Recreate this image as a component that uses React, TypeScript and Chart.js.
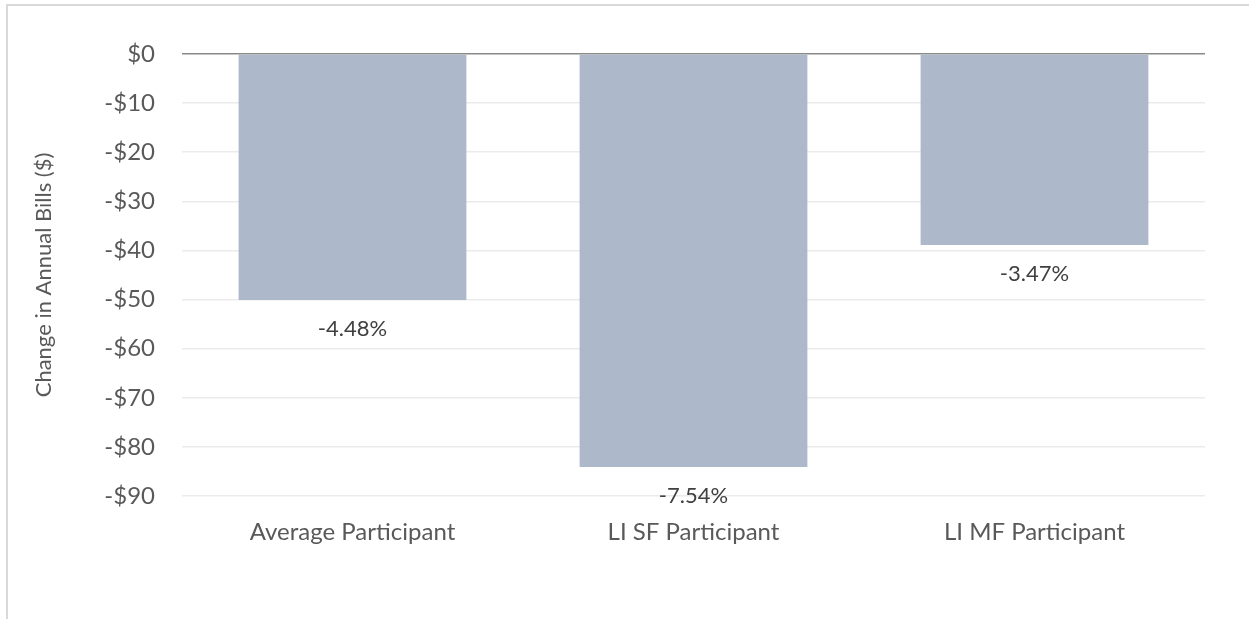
import React, { useEffect, useRef } from "react";
import { Chart, registerables } from "chart.js";

Chart.register(...registerables);

const categories = ["Average Participant", "LI SF Participant", "LI MF Participant"];
const billChange = [-50.1, -84.1, -38.9];
const pctLabels = ["-4.48%", "-7.54%", "-3.47%"];
const yTicks = [0, -10, -20, -30, -40, -50, -60, -70, -80, -90];

const FONT = "Lato, 'Open Sans', sans-serif";

const valueLabelPlugin = {
  id: "valueLabels",
  afterDatasetsDraw(chart: any) {
    const ctx = chart.ctx;
    const meta = chart.getDatasetMeta(0);
    ctx.save();
    ctx.font = `22px ${FONT}`;
    ctx.fillStyle = "#404040";
    ctx.textAlign = "center";
    ctx.textBaseline = "middle";
    meta.data.forEach((bar: any, i: number) => {
      ctx.fillText(pctLabels[i], bar.x, bar.y + 29);
    });
    ctx.restore();
  },
};

export default function App() {
  const ref = useRef<HTMLCanvasElement>(null);
  useEffect(() => {
    if (!ref.current) return;
    const chart = new Chart(ref.current, {
      type: "bar",
      data: {
        labels: categories,
        datasets: [
          {
            data: billChange,
            backgroundColor: "#adb9ca",
            borderWidth: 0,
            barPercentage: 0.668,
            categoryPercentage: 1,
          },
        ],
      },
      options: {
        animation: false,
        responsive: false,
        maintainAspectRatio: false,
        layout: { padding: { top: 54, right: 44, bottom: 0, left: 0 } },
        plugins: { legend: { display: false }, tooltip: { enabled: false } },
        scales: {
          x: {
            grid: { display: false, drawTicks: false },
            border: { display: false },
            ticks: { color: "#595959", font: { family: FONT, size: 24 }, padding: 22 },
            afterFit(scale: any) {
              scale.height = 123;
            },
          },
          y: {
            min: -90,
            max: 0,
            afterBuildTicks(scale: any) {
              scale.ticks = yTicks.map((v) => ({ value: v }));
            },
            grid: {
              drawTicks: false,
              color: (c: any) => (c.tick && c.tick.value === 0 ? "#898989" : "#ebebeb"),
              lineWidth: 1.5,
            },
            border: { display: false },
            ticks: {
              color: "#595959",
              font: { family: FONT, size: 24 },
              padding: 27,
              callback: (v: any) => (v === 0 ? "$0" : `-$${Math.abs(v)}`),
            },
            title: {
              display: true,
              text: "Change in Annual Bills ($)",
              color: "#595959",
              font: { family: FONT, size: 22 },
              padding: { top: 31, bottom: 0 },
            },
            afterFit(scale: any) {
              scale.width = 182;
            },
          },
        },
      },
      plugins: [valueLabelPlugin],
    });
    return () => chart.destroy();
  }, []);

  return (
    <div style={{ position: "absolute", left: 0, top: 0, width: 1249, height: 619, background: "#fff" }}>
      <div
        style={{
          position: "absolute",
          left: 6,
          top: 4,
          width: 1243,
          height: 615,
          borderTop: "2px solid #d9d9d9",
          borderLeft: "2px solid #d9d9d9",
          boxSizing: "border-box",
        }}
      />
      <canvas ref={ref} width={1249} height={619} style={{ position: "absolute", left: 0, top: 0 }} />
    </div>
  );
}
